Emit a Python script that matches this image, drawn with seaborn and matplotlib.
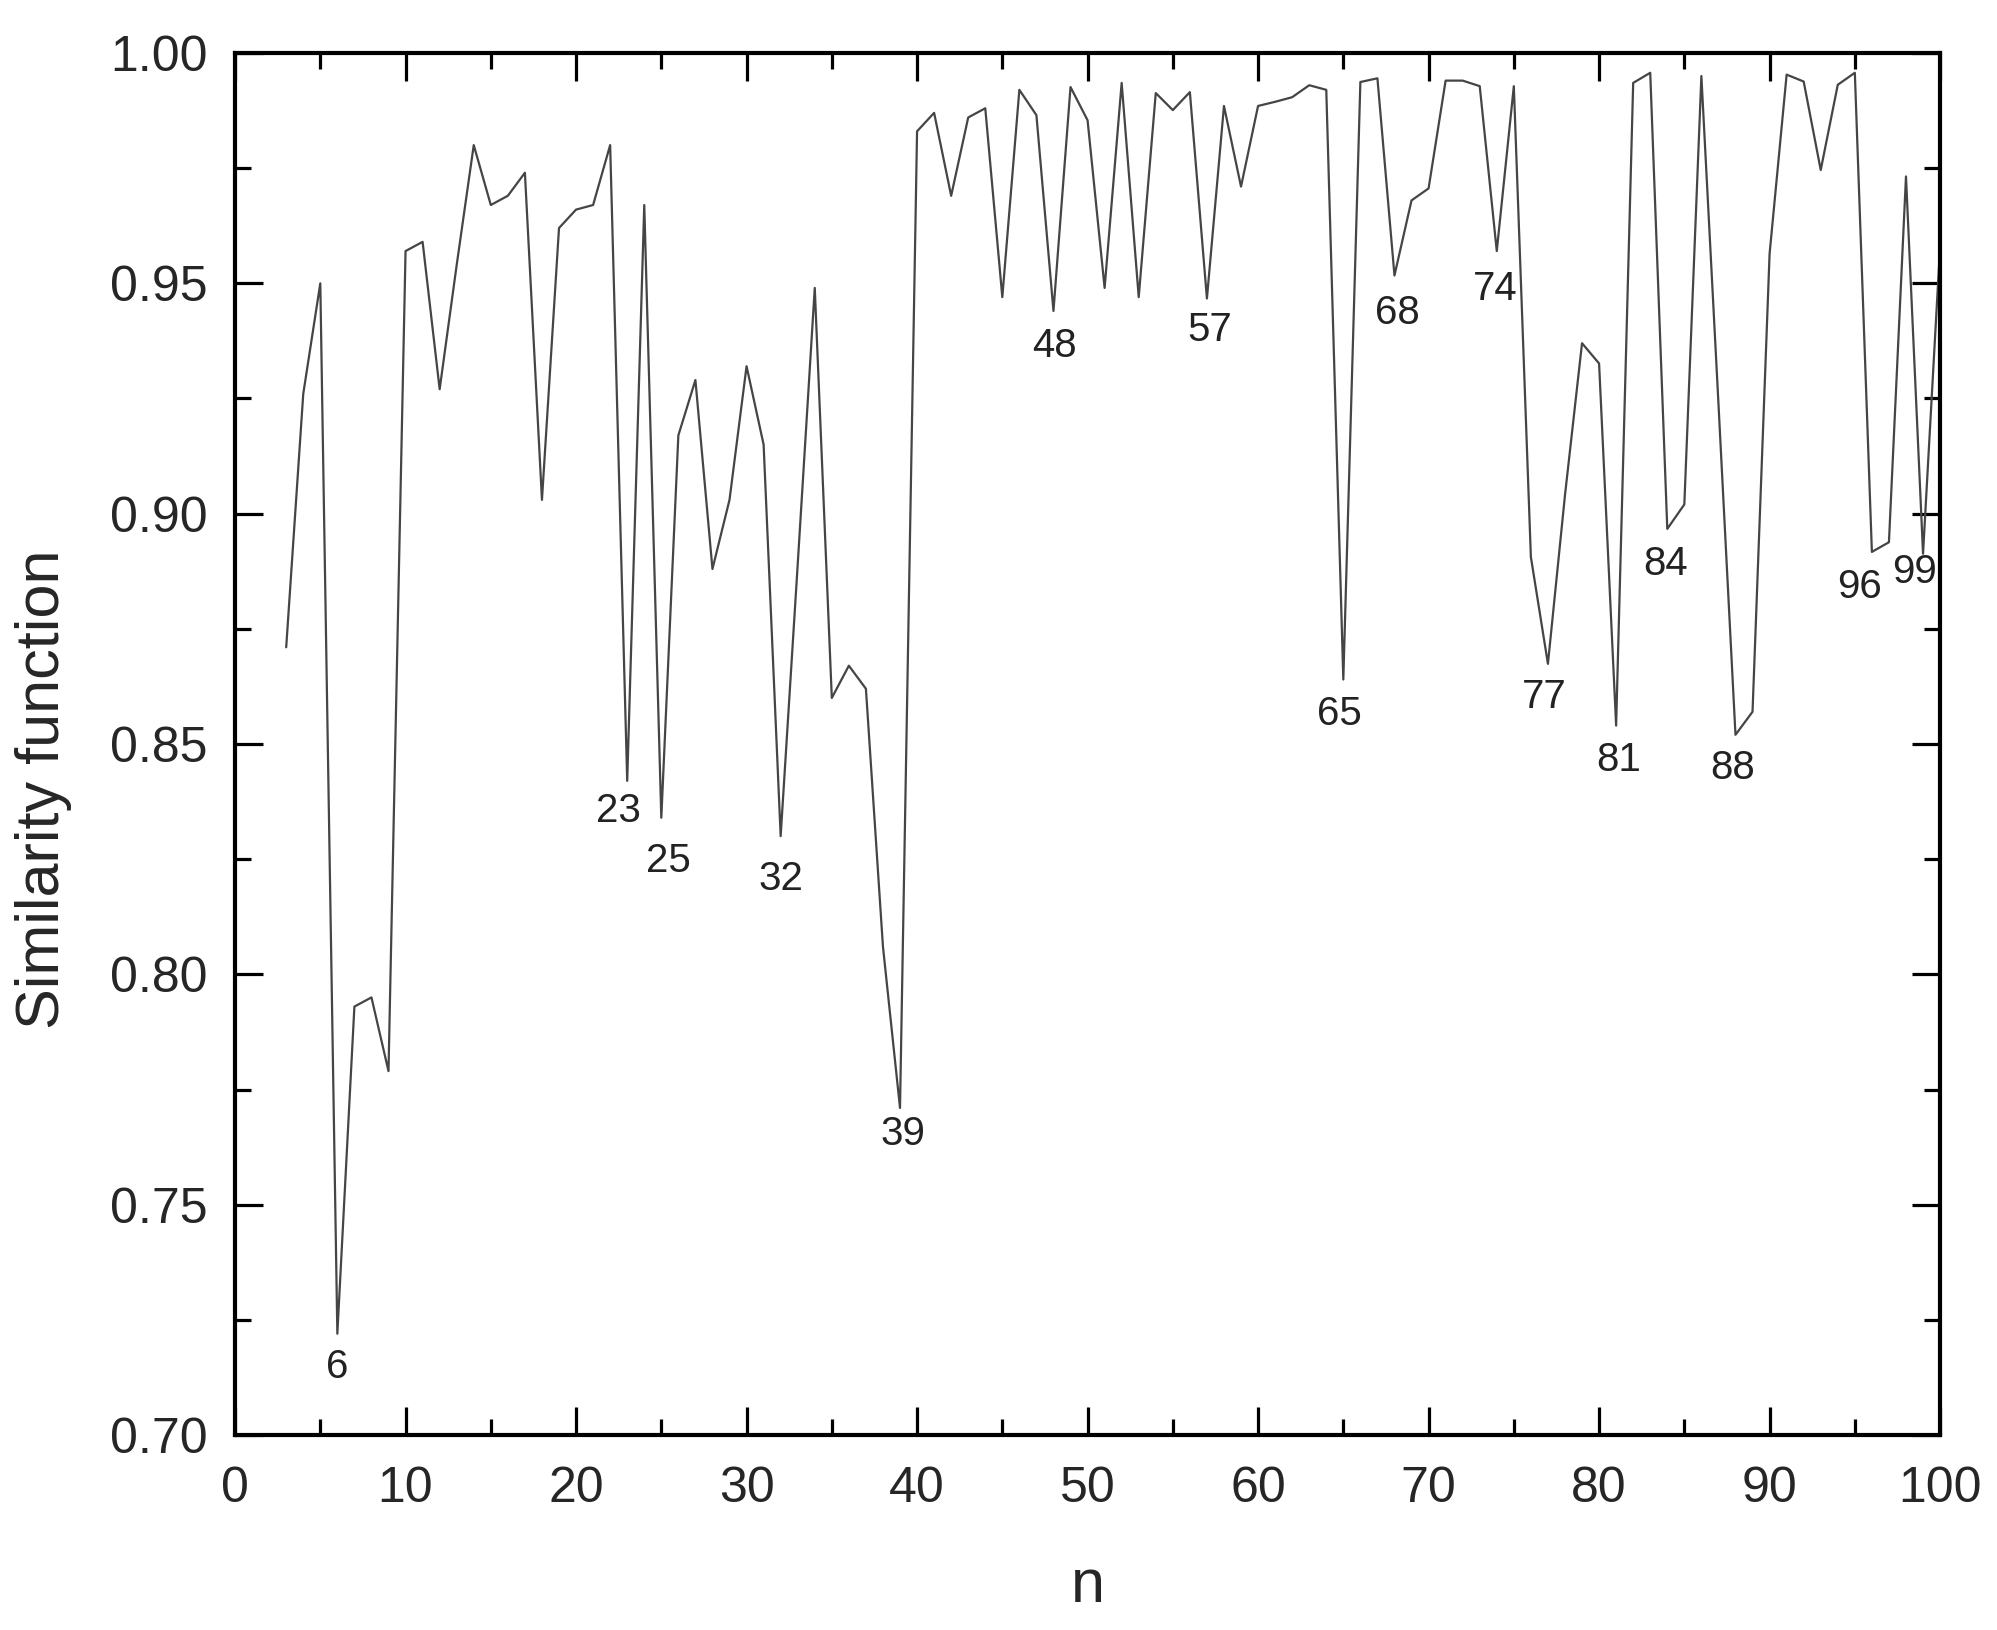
import matplotlib
matplotlib.use("Agg")
import numpy as np
import pandas as pd
import seaborn as sns
import matplotlib.pyplot as plt
from matplotlib.ticker import MultipleLocator, FormatStrFormatter

# ---------------- data ----------------
n_values = list(range(3, 101))
similarity = [
    0.871, 0.926, 0.950, 0.722, 0.793, 0.795, 0.779,           # 3-9
    0.957, 0.959, 0.927, 0.954, 0.980, 0.967, 0.969, 0.974,    # 10-17
    0.903, 0.962, 0.966, 0.967, 0.980, 0.842, 0.967, 0.834,    # 18-25
    0.917, 0.929, 0.888, 0.903, 0.932, 0.915, 0.830, 0.889,    # 26-33
    0.949, 0.860, 0.867, 0.862, 0.806, 0.771, 0.983, 0.987,    # 34-41
    0.969, 0.986, 0.988, 0.947, 0.992, 0.9865, 0.944, 0.9926,  # 42-49
    0.9854, 0.949, 0.9935, 0.947, 0.9913, 0.9876, 0.9915,      # 50-56
    0.9467, 0.9885, 0.971, 0.9885, 0.9894, 0.9904, 0.993,      # 57-63
    0.992, 0.864, 0.9937, 0.9945, 0.9517, 0.968, 0.9706,       # 64-70
    0.994, 0.994, 0.9928, 0.957, 0.9928, 0.8906, 0.8674,       # 71-77
    0.904, 0.937, 0.9326, 0.854, 0.9935, 0.9957, 0.8967,       # 78-84
    0.902, 0.995, 0.924, 0.852, 0.857, 0.9564, 0.9953,         # 85-91
    0.9938, 0.9746, 0.9931, 0.9957, 0.8917, 0.8938, 0.9732,    # 92-98
    0.8913, 0.958,                                             # 99-100
]
labeled_n = [6, 23, 25, 32, 39, 48, 57, 65, 68, 74, 77, 81, 84, 88, 96, 99]

x_ticks = [0, 10, 20, 30, 40, 50, 60, 70, 80, 90, 100]
y_ticks = [0.70, 0.75, 0.80, 0.85, 0.90, 0.95, 1.00]

# label offsets (points) relative to the marked minimum
label_offsets = {
    6: (0, -24), 23: (-6, -22), 25: (5, -31), 32: (0, -31), 39: (2, -19),
    48: (1, -25), 57: (2, -23), 65: (-3, -25), 68: (2, -27), 74: (-1, -27),
    77: (-3, -24), 81: (2, -25), 84: (-1, -25), 88: (-2, -24), 96: (-9, -25),
    99: (-6, -13),
}

# ---------------- style ----------------
sns.set_style("ticks")
plt.rcParams["font.family"] = ["Liberation Sans", "DejaVu Sans"]

df = pd.DataFrame({"n": n_values, "similarity": similarity})

fig = plt.figure(figsize=(19.97, 16.30), dpi=100)
ax = fig.add_axes([0.1177, 0.1196, 0.9715 - 0.1177, 0.9675 - 0.1196])

sns.lineplot(data=df, x="n", y="similarity", ax=ax, color="#454545",
             linewidth=1.6, legend=False)

ax.set_xlim(0, 100)
ax.set_ylim(0.70, 1.00)
ax.set_xticks(x_ticks)
ax.set_yticks(y_ticks)
ax.xaxis.set_minor_locator(MultipleLocator(5))
ax.yaxis.set_minor_locator(MultipleLocator(0.025))
ax.yaxis.set_major_formatter(FormatStrFormatter("%.2f"))

for side in ["left", "right", "top", "bottom"]:
    ax.spines[side].set_visible(True)
    ax.spines[side].set_linewidth(3.0)
    ax.spines[side].set_color("black")

ax.tick_params(which="both", direction="in", top=True, right=True,
               width=2.3, color="black")
ax.tick_params(which="major", length=20)
ax.tick_params(which="minor", length=11.5)
ax.tick_params(axis="x", which="major", labelsize=36, pad=22)
ax.tick_params(axis="y", which="major", labelsize=36, pad=20)

ax.set_xlabel("n", fontsize=44)
ax.set_ylabel("Similarity function", fontsize=44)
ax.xaxis.set_label_coords(0.5, -0.089)
ax.yaxis.set_label_coords(-0.0956, 0.467)

lookup = dict(zip(n_values, similarity))
for n in labeled_n:
    dx, dy = label_offsets.get(n, (0, -25))
    ax.annotate(str(n), xy=(n, lookup[n]), xytext=(dx, dy),
                textcoords="offset points", ha="center", va="center",
                fontsize=29, color="#222222")

fig.savefig("out.png", dpi=100)
